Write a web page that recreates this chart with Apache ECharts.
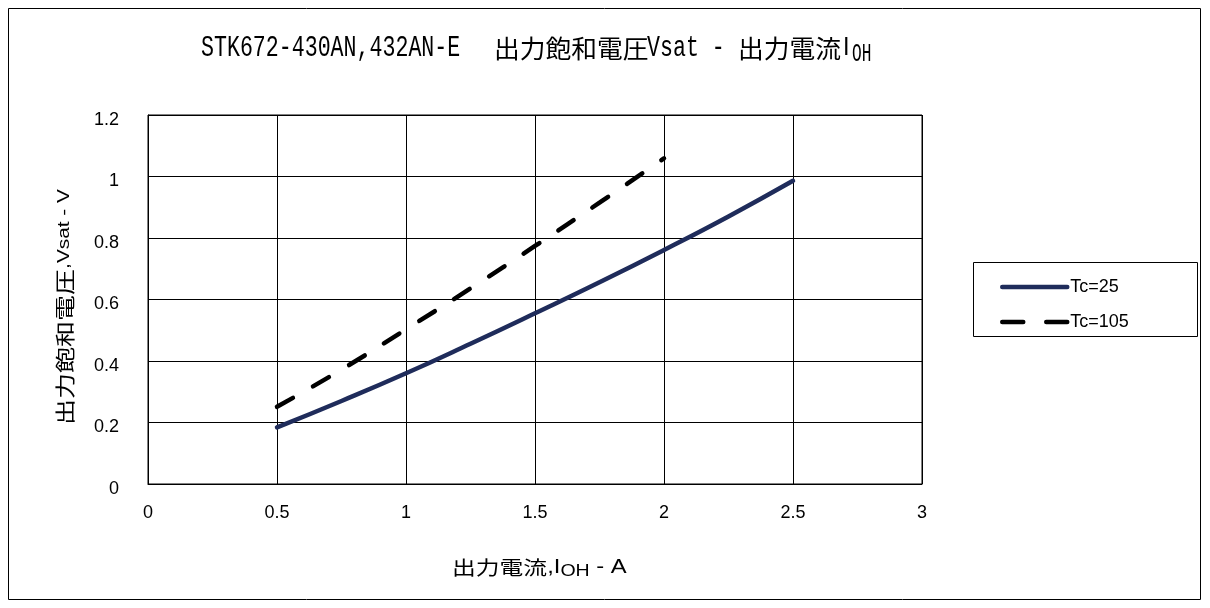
<!DOCTYPE html>
<html><head><meta charset="utf-8">
<script src="https://cdn.jsdelivr.net/npm/echarts@6/dist/echarts.min.js"></script>
<style>html,body{margin:0;padding:0;background:#fff}#c{width:1210px;height:608px}</style>
</head><body><div id="c"></div>
<script>
const xTicks = [0, 0.5, 1, 1.5, 2, 2.5, 3];
const yTicks = [0, 0.2, 0.4, 0.6, 0.8, 1, 1.2];
const seriesNames = ['Tc=25', 'Tc=105'];
const tc25X = [0.5, 0.75, 1.0, 1.25, 1.5, 1.75, 2.0, 2.25, 2.5];
const tc25Y = [0.184, 0.270, 0.360, 0.456, 0.555, 0.656, 0.761, 0.870, 0.986];
const tc105X = [0.5, 0.75, 1.0, 1.25, 1.5, 1.75, 2.0];
const tc105Y = [0.251, 0.372, 0.503, 0.636, 0.774, 0.915, 1.059];

const chart = echarts.init(document.getElementById('c'));
const zip = (xs, ys) => xs.map((x, i) => [x, ys[i]]);
const cjk = '"Noto Sans CJK JP", sans-serif';
const mono = '"Liberation Mono", monospace';
const sans = '"Liberation Sans", Arial, sans-serif';

function tText(str, x, y, font, size, sx) {
  return { type: 'text', x: x, y: y, scaleX: sx, silent: true,
    style: { text: str, fontFamily: font, fontSize: size, fill: '#000', align: 'left', verticalAlign: 'middle' } };
}

chart.setOption({
  animation: false,
  grid: { left: 148, right: 288, top: 115, bottom: 124, show: true, borderColor: '#000', borderWidth: 1 },
  xAxis: {
    type: 'value', min: 0, max: 3, interval: 0.5,
    axisLine: { show: true, lineStyle: { color: '#000' } },
    axisTick: { show: false },
    axisLabel: { color: '#000', fontFamily: sans, fontSize: 18, margin: 20 },
    splitLine: { show: true, lineStyle: { color: '#000', width: 1 } }
  },
  yAxis: {
    type: 'value', min: 0, max: 1.2, interval: 0.2,
    axisLine: { show: true, lineStyle: { color: '#000' } },
    axisTick: { show: false },
    axisLabel: { color: '#000', fontFamily: sans, fontSize: 18, margin: 29, verticalAlign: 'top', lineHeight: 10 },
    splitLine: { show: true, lineStyle: { color: '#000', width: 1 } }
  },
  legend: {
    orient: 'vertical', left: 995, top: 273, itemWidth: 65, itemHeight: 20, itemGap: 17,
    textStyle: { fontFamily: sans, fontSize: 18, color: '#000', padding: [0, 0, 0, -2] },
    itemStyle: { opacity: 0 },
    lineStyle: { width: 4.5, cap: 'round' },
    data: [
      { name: seriesNames[0] },
      { name: seriesNames[1], lineStyle: { type: [21, 23], width: 4.5, cap: 'round' } }
    ]
  },
  graphic: [
    { type: 'rect', shape: { x: 8.5, y: 8.5, width: 1192, height: 591 }, style: { fill: null, stroke: '#000', lineWidth: 1 }, silent: true },
    { type: 'rect', shape: { x: 973.5, y: 262.5, width: 224, height: 74 }, style: { fill: null, stroke: '#000', lineWidth: 1 }, silent: true },
    // title pieces
    tText('STK672-430AN,432AN-E', 201, 48, mono, 30, 0.72),
    tText('出力飽和電圧', 494, 48, cjk, 25, 1.03),
    tText('Vsat - ', 647, 48, mono, 30, 0.72),
    tText('出力電流', 738, 48, cjk, 25, 1.03),
    tText('I', 843, 48, sans, 26, 0.9),
    tText('OH', 852, 54, mono, 26, 0.62),
    // y axis name
    { type: 'text', x: 65, y: 307, rotation: Math.PI / 2, scaleX: 1.3, silent: true,
      style: { text: '{c|出力飽和電圧}{l|,Vsat - V}', align: 'center', verticalAlign: 'middle',
        rich: {
          c: { fontFamily: cjk, fontSize: 20, fill: '#000', lineHeight: 26, verticalAlign: 'middle' },
          l: { fontFamily: sans, fontSize: 16, fill: '#000', lineHeight: 26, verticalAlign: 'middle' }
        } } },
    // x axis name
    { type: 'text', x: 452, y: 568, scaleX: 1.22, silent: true,
      style: { text: '{c|出力電流}{l|,I}{s|OH}{l| - A}', align: 'left', verticalAlign: 'middle',
        rich: {
          c: { fontFamily: cjk, fontSize: 19.5, fill: '#000', lineHeight: 26, verticalAlign: 'middle' },
          l: { fontFamily: sans, fontSize: 19.5, fill: '#000', lineHeight: 26, verticalAlign: 'middle' },
          s: { fontFamily: sans, fontSize: 16, fill: '#000', lineHeight: 26, verticalAlign: 'middle', padding: [8, 0, 0, 0] }
        } } }
  ],
  series: [
    { name: seriesNames[0], type: 'line', data: zip(tc25X, tc25Y), smooth: true, symbol: 'none',
      lineStyle: { color: '#1f2c5b', width: 4.5, cap: 'round' }, itemStyle: { color: '#1f2c5b' } },
    { name: seriesNames[1], type: 'line', data: zip(tc105X, tc105Y), smooth: true, symbol: 'none',
      lineStyle: { color: '#000', width: 4.5, type: [18.5, 23], cap: 'round' }, itemStyle: { color: '#000' } }
  ]
});
</script></body></html>
